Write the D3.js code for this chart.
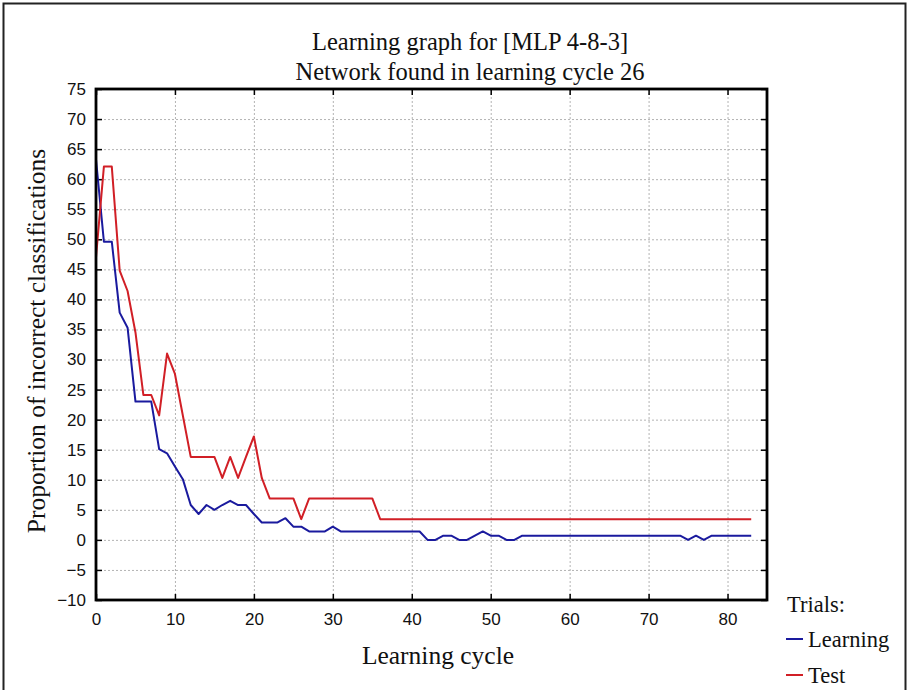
<!DOCTYPE html>
<html><head><meta charset="utf-8">
<script src="https://cdn.jsdelivr.net/npm/d3@7"></script>
<style>
body{margin:0;background:#fff;}
svg{display:block;}
</style></head>
<body>
<svg id="chart" width="909" height="690"></svg>
<script>
// ---- data ----
const titleLines = ["Learning graph for [MLP 4-8-3]", "Network found in learning cycle 26"];
const xLabel = "Learning cycle";
const yLabel = "Proportion of incorrect classifications";
const legendTitle = "Trials:";
const seriesNames = ["Learning", "Test"];
const xTicks = [0,10,20,30,40,50,60,70,80];
const yTicks = [-10,-5,0,5,10,15,20,25,30,35,40,45,50,55,60,65,70,75];
const cycles = d3.range(0,84);
const learning = [63.3,49.6,49.6,37.8,35.3,23.0,23.0,23.0,15.1,14.4,
  12.2,10.1,5.8,4.3,5.8,5.0,5.8,6.5,5.8,5.8,
  4.3,2.9,2.9,2.9,3.6,2.2,2.2,1.4,1.4,1.4,
  2.2,1.4,1.4,1.4,1.4,1.4,1.4,1.4,1.4,1.4,
  1.4,1.4,0,0,0.7,0.7,0,0,0.7,1.4,
  0.7,0.7,0,0,0.7,0.7,0.7,0.7,0.7,0.7,
  0.7,0.7,0.7,0.7,0.7,0.7,0.7,0.7,0.7,0.7,
  0.7,0.7,0.7,0.7,0.7,0,0.7,0,0.7,0.7,
  0.7,0.7,0.7,0.7];
const test = [47.0,62.1,62.1,44.8,41.4,34.5,24.1,24.1,20.7,31.0,
  27.6,20.7,13.8,13.8,13.8,13.8,10.3,13.8,10.3,13.8,
  17.2,10.3,6.9,6.9,6.9,6.9,3.45,6.9,6.9,6.9,
  6.9,6.9,6.9,6.9,6.9,6.9,3.45,3.45,3.45,3.45,
  3.45,3.45,3.45,3.45,3.45,3.45,3.45,3.45,3.45,3.45,
  3.45,3.45,3.45,3.45,3.45,3.45,3.45,3.45,3.45,3.45,
  3.45,3.45,3.45,3.45,3.45,3.45,3.45,3.45,3.45,3.45,
  3.45,3.45,3.45,3.45,3.45,3.45,3.45,3.45,3.45,3.45,
  3.45,3.45,3.45,3.45];
const colors = ["#1a1a9e", "#d11f26"];

// ---- layout ----
const svg = d3.select("#chart");
const L = 96, R = 767, T = 89, B = 600;
const x = d3.scaleLinear().domain([0,85]).range([L,R]);
const y = d3.scaleLinear().domain([-10,75]).range([B,T]);
const serif = "'Liberation Serif','Times New Roman',serif";
const sans = "'Liberation Sans',Arial,sans-serif";

// outer frame
svg.append("rect").attr("x",3.5).attr("y",3.5).attr("width",902).attr("height",700)
  .attr("fill","none").attr("stroke","#222").attr("stroke-width",2);

// grid
const grid = svg.append("g").attr("stroke","#b3b3b3").attr("stroke-width",1).attr("stroke-dasharray","2,2");
grid.selectAll("line.gx").data(xTicks.filter(d=>d>0)).join("line")
  .attr("x1",d=>x(d)+0.5).attr("x2",d=>x(d)+0.5).attr("y1",T).attr("y2",B);
grid.selectAll("line.gy").data(yTicks.filter(d=>d>-10 && d<75)).join("line")
  .attr("x1",L).attr("x2",R).attr("y1",d=>y(d)+0.5).attr("y2",d=>y(d)+0.5);

// axes
const ax = svg.append("g");
ax.append("g").attr("transform",`translate(${L},0)`)
  .call(d3.axisLeft(y).tickValues(yTicks).tickSize(-6).tickPadding(10).tickFormat(d3.format("d")));
ax.append("g").attr("transform",`translate(0,${B})`)
  .call(d3.axisBottom(x).tickValues(xTicks).tickSize(-6).tickPadding(13).tickFormat(d3.format("d")));
ax.append("g").attr("transform",`translate(${R},0)`)
  .call(d3.axisRight(y).tickValues(yTicks).tickSize(-6).tickFormat(""));
ax.append("g").attr("transform",`translate(0,${T})`)
  .call(d3.axisTop(x).tickValues(xTicks).tickSize(-6).tickFormat(""));
ax.selectAll(".domain").remove();
ax.selectAll(".tick line").attr("stroke","#000").attr("stroke-width",1.5);
ax.selectAll(".tick text").attr("font-family",sans).attr("font-size",17).attr("fill","#111");

// series
const line = d3.line().x((d,i)=>x(cycles[i])).y(d=>y(d));
[learning, test].forEach((s,k)=>{
  svg.append("path").datum(s).attr("d",line).attr("fill","none")
    .attr("stroke",colors[k]).attr("stroke-width",2).attr("stroke-linejoin","round");
});

// frame
svg.append("rect").attr("x",L).attr("y",T).attr("width",R-L).attr("height",B-T)
  .attr("fill","none").attr("stroke","#000").attr("stroke-width",2.8);

// titles
svg.append("g").selectAll("text").data(titleLines).join("text")
  .attr("x",470).attr("y",(d,i)=>50+i*30).attr("text-anchor","middle")
  .attr("font-family",serif).attr("font-size",24.5).attr("fill","#111").text(d=>d);
svg.append("text").attr("x",438).attr("y",664).attr("text-anchor","middle")
  .attr("font-family",serif).attr("font-size",25.5).attr("fill","#111").text(xLabel);
svg.append("text").attr("transform","translate(45,341) rotate(-90)").attr("text-anchor","middle")
  .attr("font-family",serif).attr("font-size",25.5).attr("fill","#111").text(yLabel);

// legend
svg.append("text").attr("x",787).attr("y",612).attr("font-family",serif).attr("font-size",22.5)
  .attr("fill","#111").text(legendTitle);
const lg = svg.append("g").selectAll("g").data(seriesNames).join("g")
  .attr("transform",(d,i)=>`translate(786,${639+i*36})`);
lg.append("line").attr("x1",0).attr("x2",17).attr("y1",0).attr("y2",0)
  .attr("stroke",(d,i)=>colors[i]).attr("stroke-width",2);
lg.append("text").attr("x",22).attr("y",8).attr("font-family",serif).attr("font-size",22.5)
  .attr("fill","#111").text(d=>d);
</script>
</body></html>
